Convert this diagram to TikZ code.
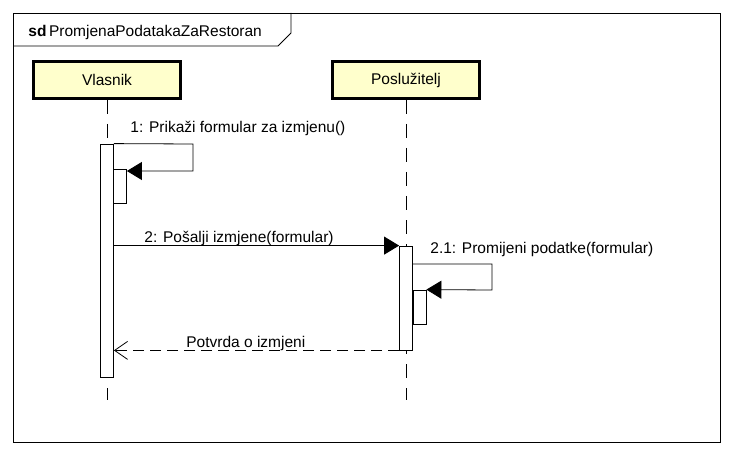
\documentclass[tikz,border=0pt]{standalone}
\usepackage{fontspec}
\setmainfont{Liberation Sans}
\usetikzlibrary{arrows.meta}
\definecolor{lifeyellow}{RGB}{255,255,204}

\begin{document}
\begin{tikzpicture}[x=1pt, y=-1pt, >={Triangle[length=15pt,width=18pt]},
  font=\fontsize{15.5}{18}\selectfont, line width=0.8pt,
  lifebox/.style={draw, line width=3pt, fill=lifeyellow, minimum width=147pt, minimum height=37pt, inner sep=0pt},
  actbox/.style={draw, fill=white, minimum width=13pt, inner sep=0pt},
  lifeline/.style={dash pattern=on 14pt off 10pt},
  reply/.style={dash pattern=on 11pt off 6pt, -{Straight Barb[length=13pt,width=18pt]}},
  lbl/.style={anchor=base west, inner sep=0pt}]
  \useasboundingbox (0,0) rectangle (733,457);

  % Frame and its tab
  \draw (13,13) rectangle (720,442);
  \draw (13,46) -- (278,46) -- (291,33) -- (291,13);
  \node[lbl] (title) at (28,37) {\textbf{sd}\,PromjenaPodatakaZaRestoran};

  % Lifelines
  \node[lifebox] (vl) at (107,80) {Vlasnik};
  \node[lifebox] (ps) at (406,80) {Poslužitelj};
  \coordinate (vlend) at (107,400);
  \coordinate (psend) at (406,400);
  \draw[lifeline] (vl.south) -- (vlend);
  \draw[lifeline] (ps.south) -- (psend);

  % Activations
  \node[actbox, minimum height=233pt] (vact) at (107,260.5) {};
  \node[actbox, minimum height=34pt] (vnest) at (120,186) {};
  \node[actbox, minimum height=104pt] (pact) at (406,298) {};
  \node[actbox, minimum height=34pt] (pnest) at (419.5,307) {};

  % Messages
  \coordinate (m1a) at (193,144);
  \coordinate (m1b) at (193,171);
  \draw[->] (vact.north east) -- (m1a) -- (m1b) -- (vnest.east |- m1b);
  \node[lbl] (m1) at (130,133) {1: Prikaži formular za izmjenu()};

  \draw[->] (vact.east |- pact.north) -- (pact.north west);
  \node[lbl] (m2) at (144,242) {2: Pošalji izmjene(formular)};

  \coordinate (m21a) at (492,264);
  \coordinate (m21b) at (492,290);
  \draw[->] (pact.east |- m21a) -- (m21a) -- (m21b) -- (pnest.north east);
  \node[lbl] (m21) at (430,253) {2.1: Promijeni podatke(formular)};

  \draw[reply] (pact.south west) -- (vact.east |- pact.south);
  \node[lbl] (m3) at (186,347) {Potvrda o izmjeni};
\end{tikzpicture}
\end{document}
